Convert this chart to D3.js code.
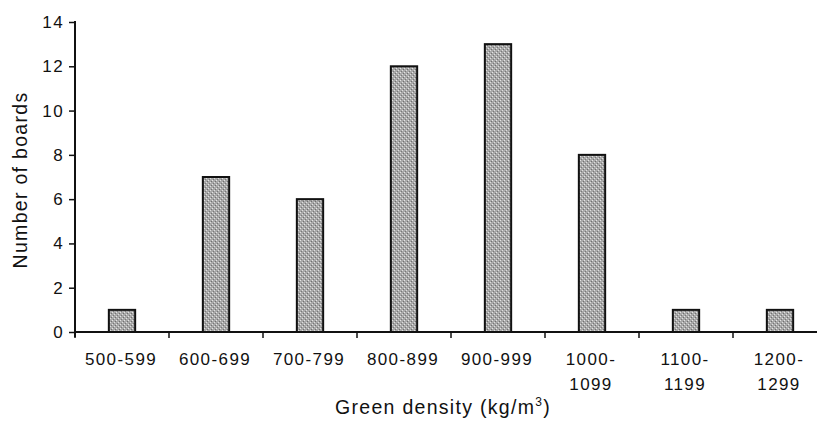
<!DOCTYPE html>
<html>
<head>
<meta charset="utf-8">
<script src="https://cdnjs.cloudflare.com/ajax/libs/d3/7.8.5/d3.min.js"></script>
<style>
  body { margin: 0; background: #fff; }
  svg { display: block; }
</style>
</head>
<body>
<div id="chart"></div>
<script>
// Data
var categories = [
    ["500-599"], ["600-699"], ["700-799"], ["800-899"], ["900-999"],
    ["1000-", "1099"], ["1100-", "1199"], ["1200-", "1299"]
];
var boardCounts = [1, 7, 6, 12, 13, 8, 1, 1];
var yTicks = [0, 2, 4, 6, 8, 10, 12, 14];
var xTitle = "Green density (kg/m";
var yTitle = "Number of boards";

var attrs = {
    svgWidth: 817,
    svgHeight: 429,
    left: 75,
    right: 827,
    top: 22,
    bottom: 332,
    font: "'Liberation Sans', Arial, Helvetica, sans-serif",
    tickFont: 17,
    tickSpacing: 1.4,
    titleFont: 19.5,
    titleSpacing: 1.3,
    barFill: "#a8a8a8",
    ink: "#111"
};

var keys = categories.map(d => d.join(""));

var svg = d3.select("#chart").append("svg")
    .attr("width", attrs.svgWidth)
    .attr("height", attrs.svgHeight)
    .attr("font-family", attrs.font);

//################ SCALES ################
var x = d3.scaleBand()
    .domain(keys)
    .range([attrs.left, attrs.right])
    .paddingInner(0.72)
    .paddingOuter(0.36);

var y = d3.scaleLinear()
    .domain([0, 14])
    .range([attrs.bottom, attrs.top]);

// stipple pattern for bars
var defs = svg.append("defs");
var pat = defs.append("pattern")
    .attr("id", "stipple")
    .attr("patternUnits", "userSpaceOnUse")
    .attr("width", 4).attr("height", 4);
pat.append("rect").attr("width", 4).attr("height", 4).attr("fill", attrs.barFill);
pat.append("rect").attr("x", 0).attr("y", 0).attr("width", 1).attr("height", 1).attr("fill", "#e4e4e4");
pat.append("rect").attr("x", 2).attr("y", 2).attr("width", 1).attr("height", 1).attr("fill", "#dedede");
pat.append("rect").attr("x", 3).attr("y", 1).attr("width", 1).attr("height", 1).attr("fill", "#707070");
pat.append("rect").attr("x", 1).attr("y", 3).attr("width", 1).attr("height", 1).attr("fill", "#787878");

//################ BARS ################
svg.selectAll("rect.bar")
    .data(boardCounts)
    .enter().append("rect")
    .attr("class", "bar")
    .attr("x", (d, i) => x(keys[i]))
    .attr("y", d => y(d))
    .attr("width", x.bandwidth())
    .attr("height", d => y(0) - y(d))
    .attr("fill", "url(#stipple)")
    .attr("stroke", attrs.ink)
    .attr("stroke-width", 2);

//################ Y AXIS ################
var yAxis = d3.axisLeft(y)
    .tickValues(yTicks)
    .tickSize(6)
    .tickPadding(5);

var gy = svg.append("g")
    .attr("transform", "translate(" + attrs.left + ",0)")
    .call(yAxis);
gy.select(".domain").remove();
gy.selectAll(".tick line").attr("stroke", attrs.ink).attr("stroke-width", 1.5);
gy.selectAll(".tick text")
    .attr("font-size", attrs.tickFont)
    .attr("font-family", attrs.font)
    .attr("letter-spacing", attrs.tickSpacing)
    .attr("fill", attrs.ink);
gy.append("line")
    .attr("x1", 0).attr("x2", 0)
    .attr("y1", y(14) - 1).attr("y2", y(0) + 5)
    .attr("stroke", attrs.ink).attr("stroke-width", 2);

//################ X AXIS ################
var step = x.step();
var gap = (step - x.bandwidth()) / 2;
var boundaries = keys.map(k => x(k) - gap);

var gx = svg.append("g");
gx.append("line")
    .attr("x1", attrs.left).attr("x2", attrs.svgWidth)
    .attr("y1", y(0)).attr("y2", y(0))
    .attr("stroke", attrs.ink).attr("stroke-width", 2);
gx.selectAll("line.xtick")
    .data(boundaries)
    .enter().append("line")
    .attr("class", "xtick")
    .attr("x1", d => d).attr("x2", d => d)
    .attr("y1", y(0)).attr("y2", y(0) + 6)
    .attr("stroke", attrs.ink).attr("stroke-width", 1.5);

var labels = gx.selectAll("text.xlabel")
    .data(categories)
    .enter().append("text")
    .attr("class", "xlabel")
    .attr("text-anchor", "middle")
    .attr("font-size", attrs.tickFont)
    .attr("letter-spacing", attrs.tickSpacing)
    .attr("fill", attrs.ink)
    .attr("transform", (d, i) => "translate(" + (x(keys[i]) + x.bandwidth() / 2 - 1) + "," + (y(0) + 33) + ")");
labels.selectAll("tspan")
    .data(d => d)
    .enter().append("tspan")
    .attr("x", 0)
    .attr("dy", (d, i) => i === 0 ? 0 : 25)
    .text(d => d);

//################ TITLES ################
var xt = svg.append("text")
    .attr("x", 443)
    .attr("y", 414)
    .attr("text-anchor", "middle")
    .attr("font-size", attrs.titleFont)
    .attr("letter-spacing", attrs.titleSpacing)
    .attr("fill", attrs.ink)
    .text(xTitle);
xt.append("tspan")
    .attr("dy", -8)
    .attr("font-size", 12)
    .text("3");
xt.append("tspan")
    .attr("dy", 8)
    .text(")");

svg.append("text")
    .attr("transform", "translate(27,180) rotate(-90)")
    .attr("text-anchor", "middle")
    .attr("font-size", attrs.titleFont)
    .attr("letter-spacing", attrs.titleSpacing)
    .attr("fill", attrs.ink)
    .text(yTitle);
</script>
</body>
</html>
